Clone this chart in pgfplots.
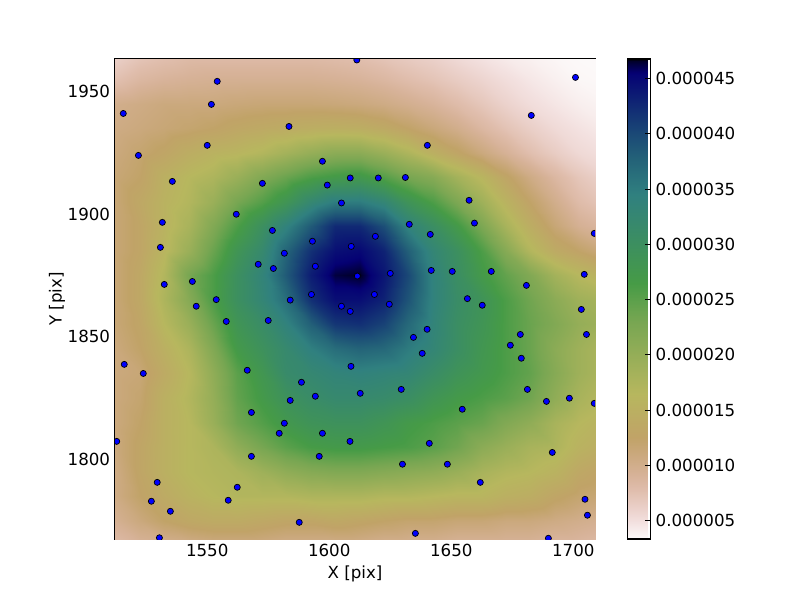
\documentclass[border=0pt]{standalone}
\usepackage{fontspec}
\setmainfont{DejaVu Sans}
\usepackage{pgfplots}
\pgfplotsset{compat=1.18}
\pgfplotsset{colormap={gistearthr}{
rgb(0pt)=(0.992,0.984,0.984)
rgb(35pt)=(0.953,0.882,0.878)
rgb(59pt)=(0.926,0.828,0.807)
rgb(102pt)=(0.878,0.743,0.677)
rgb(133pt)=(0.843,0.699,0.598)
rgb(184pt)=(0.786,0.655,0.473)
rgb(212pt)=(0.755,0.639,0.405)
rgb(302pt)=(0.718,0.717,0.369)
rgb(451pt)=(0.472,0.652,0.322)
rgb(478pt)=(0.411,0.640,0.307)
rgb(533pt)=(0.275,0.608,0.275)
rgb(541pt)=(0.271,0.603,0.285)
rgb(718pt)=(0.188,0.502,0.500)
rgb(792pt)=(0.139,0.384,0.471)
rgb(835pt)=(0.110,0.304,0.465)
rgb(890pt)=(0.073,0.189,0.457)
rgb(969pt)=(0.021,0.009,0.455)
rgb(973pt)=(0.018,0.0,0.433)
rgb(992pt)=(0.005,0.0,0.221)
rgb(996pt)=(0.003,0.0,0.168)
rgb(1000pt)=(0,0,0)
}}
\begin{document}
\begin{tikzpicture}[x=1pt,y=1pt]
\useasboundingbox (0,0) rectangle (576,432);
\begin{axis}[
  at={(82.8pt,43.92pt)}, anchor=south west,
  scale only axis, width=345.6pt, height=345.6pt,
  xmin=1512.2, xmax=1708.9, ymin=1767.5, ymax=1963.2,
  xtick={1550,1600,1650,1700}, ytick={1800,1850,1900,1950},
  /pgf/number format/1000 sep={},
  /pgf/number format/assume math mode=true,
  tick label style={font=\fontsize{12}{14}\selectfont},
  label style={font=\fontsize{12}{14}\selectfont},
  xlabel={X [pix]}, ylabel={Y [pix]}, ylabel shift=-5pt,
  tick align=inside, major tick length=4pt,
  axis line style={line width=0.75pt},
  every tick/.style={black, line width=0.6pt},
  colormap name=gistearthr,
  point meta min=3.35, point meta max=46.75,
  clip marker paths=true,
  colorbar,
  colorbar style={
    at={(parent axis.north east)}, anchor=north west, xshift=15.1pt,
    scale only axis, width=16.56pt, height=345.6pt,
    ytick={5,10,15,20,25,30,35,40,45},
    yticklabels={0.000005,0.000010,0.000015,0.000020,0.000025,0.000030,0.000035,0.000040,0.000045},
    yticklabel style={font=\fontsize{12}{14}\selectfont},
    ytick pos=right, tick align=inside, major tick length=4pt,
    axis line style={line width=0.75pt},
  },
]
\addplot[surf, shader=interp, mesh/cols=22, point meta=explicit] coordinates {
(1502.4,1765)[7.5] (1512.4,1765)[8] (1522.4,1765)[9] (1532.4,1765)[9.5] (1542.4,1765)[10] (1552.4,1765)[10.5] (1562.4,1765)[10.5] (1572.4,1765)[10.5] (1582.4,1765)[10] (1592.4,1765)[10] (1602.4,1765)[10] (1612.4,1765)[10] (1622.4,1765)[9.5] (1632.4,1765)[9.5] (1642.4,1765)[9.5] (1652.4,1765)[9] (1662.4,1765)[9] (1672.4,1765)[9] (1682.4,1765)[9] (1692.4,1765)[8.5] (1702.4,1765)[8.5] (1712.4,1765)[8]
(1502.4,1775)[9] (1512.4,1775)[9.5] (1522.4,1775)[11] (1532.4,1775)[12.5] (1542.4,1775)[13.5] (1552.4,1775)[14] (1562.4,1775)[14] (1572.4,1775)[13.5] (1582.4,1775)[13] (1592.4,1775)[13] (1602.4,1775)[13.5] (1612.4,1775)[13] (1622.4,1775)[12.5] (1632.4,1775)[12] (1642.4,1775)[12] (1652.4,1775)[11.5] (1662.4,1775)[11.5] (1672.4,1775)[11] (1682.4,1775)[11] (1692.4,1775)[10.5] (1702.4,1775)[10] (1712.4,1775)[9.5]
(1502.4,1785)[10] (1512.4,1785)[10.5] (1522.4,1785)[12.5] (1532.4,1785)[14] (1542.4,1785)[15.5] (1552.4,1785)[16.5] (1562.4,1785)[17] (1572.4,1785)[17] (1582.4,1785)[17] (1592.4,1785)[17.5] (1602.4,1785)[17.5] (1612.4,1785)[17.5] (1622.4,1785)[17] (1632.4,1785)[17] (1642.4,1785)[16.5] (1652.4,1785)[16] (1662.4,1785)[16] (1672.4,1785)[15] (1682.4,1785)[14.5] (1692.4,1785)[13] (1702.4,1785)[12] (1712.4,1785)[11.5]
(1502.4,1795)[10] (1512.4,1795)[10.5] (1522.4,1795)[13] (1532.4,1795)[15] (1542.4,1795)[16.5] (1552.4,1795)[17] (1562.4,1795)[17.5] (1572.4,1795)[19] (1582.4,1795)[20.5] (1592.4,1795)[21.5] (1602.4,1795)[22] (1612.4,1795)[22] (1622.4,1795)[21.5] (1632.4,1795)[21] (1642.4,1795)[20.5] (1652.4,1795)[19.5] (1662.4,1795)[18] (1672.4,1795)[17] (1682.4,1795)[16.5] (1692.4,1795)[15.5] (1702.4,1795)[13.5] (1712.4,1795)[12.5]
(1502.4,1805)[10.5] (1512.4,1805)[11] (1522.4,1805)[13] (1532.4,1805)[15] (1542.4,1805)[16.5] (1552.4,1805)[17.5] (1562.4,1805)[20.5] (1572.4,1805)[23] (1582.4,1805)[25] (1592.4,1805)[26.5] (1602.4,1805)[27] (1612.4,1805)[27] (1622.4,1805)[26.5] (1632.4,1805)[26] (1642.4,1805)[25] (1652.4,1805)[23.5] (1662.4,1805)[21] (1672.4,1805)[19.5] (1682.4,1805)[18] (1692.4,1805)[17.5] (1702.4,1805)[15.5] (1712.4,1805)[14.5]
(1502.4,1815)[10.5] (1512.4,1815)[11] (1522.4,1815)[12.5] (1532.4,1815)[15] (1542.4,1815)[16.5] (1552.4,1815)[19.5] (1562.4,1815)[23.5] (1572.4,1815)[25.5] (1582.4,1815)[27.5] (1592.4,1815)[29] (1602.4,1815)[29.5] (1612.4,1815)[29.5] (1622.4,1815)[28.5] (1632.4,1815)[27] (1642.4,1815)[26] (1652.4,1815)[25] (1662.4,1815)[24] (1672.4,1815)[22] (1682.4,1815)[20.5] (1692.4,1815)[18] (1702.4,1815)[16.5] (1712.4,1815)[15.5]
(1502.4,1825)[10.5] (1512.4,1825)[11] (1522.4,1825)[12] (1532.4,1825)[15] (1542.4,1825)[17] (1552.4,1825)[20] (1562.4,1825)[24.5] (1572.4,1825)[27] (1582.4,1825)[29.5] (1592.4,1825)[31] (1602.4,1825)[32] (1612.4,1825)[32] (1622.4,1825)[31.5] (1632.4,1825)[30.5] (1642.4,1825)[28.5] (1652.4,1825)[27] (1662.4,1825)[26] (1672.4,1825)[25] (1682.4,1825)[23.5] (1692.4,1825)[20.5] (1702.4,1825)[18] (1712.4,1825)[16.5]
(1502.4,1835)[10.5] (1512.4,1835)[11] (1522.4,1835)[11.5] (1532.4,1835)[14] (1542.4,1835)[16.5] (1552.4,1835)[20.5] (1562.4,1835)[25] (1572.4,1835)[28] (1582.4,1835)[31.5] (1592.4,1835)[32.5] (1602.4,1835)[33.5] (1612.4,1835)[34] (1622.4,1835)[33.5] (1632.4,1835)[33] (1642.4,1835)[31] (1652.4,1835)[29] (1662.4,1835)[27.5] (1672.4,1835)[26] (1682.4,1835)[24.5] (1692.4,1835)[21.5] (1702.4,1835)[19] (1712.4,1835)[17.5]
(1502.4,1845)[10.5] (1512.4,1845)[11] (1522.4,1845)[12.5] (1532.4,1845)[15] (1542.4,1845)[17.5] (1552.4,1845)[22] (1562.4,1845)[27] (1572.4,1845)[29.5] (1582.4,1845)[32] (1592.4,1845)[34.5] (1602.4,1845)[36.5] (1612.4,1845)[37.5] (1622.4,1845)[37] (1632.4,1845)[35] (1642.4,1845)[33] (1652.4,1845)[30.5] (1662.4,1845)[28] (1672.4,1845)[26] (1682.4,1845)[24] (1692.4,1845)[21] (1702.4,1845)[19] (1712.4,1845)[17.5]
(1502.4,1855)[11] (1512.4,1855)[11.5] (1522.4,1855)[13] (1532.4,1855)[16.5] (1542.4,1855)[19.5] (1552.4,1855)[24] (1562.4,1855)[28.5] (1572.4,1855)[31] (1582.4,1855)[34] (1592.4,1855)[38] (1602.4,1855)[41.5] (1612.4,1855)[42] (1622.4,1855)[40.5] (1632.4,1855)[37] (1642.4,1855)[33.5] (1652.4,1855)[30.5] (1662.4,1855)[28.5] (1672.4,1855)[26] (1682.4,1855)[24] (1692.4,1855)[22] (1702.4,1855)[20] (1712.4,1855)[19]
(1502.4,1865)[11] (1512.4,1865)[11.5] (1522.4,1865)[13.5] (1532.4,1865)[17.5] (1542.4,1865)[21.5] (1552.4,1865)[26] (1562.4,1865)[30] (1572.4,1865)[33] (1582.4,1865)[36.5] (1592.4,1865)[42] (1602.4,1865)[44.5] (1612.4,1865)[44.5] (1622.4,1865)[43] (1632.4,1865)[39] (1642.4,1865)[34] (1652.4,1865)[31] (1662.4,1865)[29] (1672.4,1865)[26] (1682.4,1865)[23.5] (1692.4,1865)[21] (1702.4,1865)[19] (1712.4,1865)[18]
(1502.4,1875)[11] (1512.4,1875)[11.5] (1522.4,1875)[13.5] (1532.4,1875)[17] (1542.4,1875)[23] (1552.4,1875)[26] (1562.4,1875)[30] (1572.4,1875)[33.5] (1582.4,1875)[38.5] (1592.4,1875)[43.5] (1602.4,1875)[46.3] (1612.4,1875)[46.7] (1622.4,1875)[44] (1632.4,1875)[40] (1642.4,1875)[34] (1652.4,1875)[30.5] (1662.4,1875)[27] (1672.4,1875)[24.5] (1682.4,1875)[22] (1692.4,1875)[18.5] (1702.4,1875)[16.5] (1712.4,1875)[15]
(1502.4,1885)[11] (1512.4,1885)[11.5] (1522.4,1885)[13] (1532.4,1885)[16] (1542.4,1885)[19.5] (1552.4,1885)[24] (1562.4,1885)[28.5] (1572.4,1885)[32] (1582.4,1885)[37.5] (1592.4,1885)[42] (1602.4,1885)[44.5] (1612.4,1885)[45] (1622.4,1885)[43] (1632.4,1885)[38] (1642.4,1885)[33] (1652.4,1885)[30] (1662.4,1885)[26] (1672.4,1885)[21.5] (1682.4,1885)[17] (1692.4,1885)[14] (1702.4,1885)[12.5] (1712.4,1885)[11]
(1502.4,1895)[11] (1512.4,1895)[11.5] (1522.4,1895)[13] (1532.4,1895)[15.5] (1542.4,1895)[18] (1552.4,1895)[22] (1562.4,1895)[26] (1572.4,1895)[30] (1582.4,1895)[34] (1592.4,1895)[38.5] (1602.4,1895)[42.5] (1612.4,1895)[42.5] (1622.4,1895)[39.5] (1632.4,1895)[34] (1642.4,1895)[30.5] (1652.4,1895)[27] (1662.4,1895)[22.5] (1672.4,1895)[18] (1682.4,1895)[14.5] (1692.4,1895)[11.5] (1702.4,1895)[9.5] (1712.4,1895)[8.5]
(1502.4,1905)[11] (1512.4,1905)[11.5] (1522.4,1905)[13.5] (1532.4,1905)[15.5] (1542.4,1905)[17] (1552.4,1905)[19.5] (1562.4,1905)[23] (1572.4,1905)[25.5] (1582.4,1905)[28.5] (1592.4,1905)[32.5] (1602.4,1905)[35] (1612.4,1905)[35] (1622.4,1905)[33] (1632.4,1905)[29] (1642.4,1905)[26] (1652.4,1905)[22.5] (1662.4,1905)[19] (1672.4,1905)[15.5] (1682.4,1905)[12.5] (1692.4,1905)[10] (1702.4,1905)[8] (1712.4,1905)[7]
(1502.4,1915)[11] (1512.4,1915)[11.5] (1522.4,1915)[12.5] (1532.4,1915)[15] (1542.4,1915)[16.5] (1552.4,1915)[17.5] (1562.4,1915)[19.5] (1572.4,1915)[22] (1582.4,1915)[24] (1592.4,1915)[26] (1602.4,1915)[27] (1612.4,1915)[27.5] (1622.4,1915)[25.5] (1632.4,1915)[23] (1642.4,1915)[21.5] (1652.4,1915)[18.5] (1662.4,1915)[16] (1672.4,1915)[13] (1682.4,1915)[10.5] (1692.4,1915)[8.5] (1702.4,1915)[7] (1712.4,1915)[6]
(1502.4,1925)[10.5] (1512.4,1925)[11] (1522.4,1925)[12] (1532.4,1925)[13] (1542.4,1925)[14.5] (1552.4,1925)[15.5] (1562.4,1925)[16] (1572.4,1925)[17] (1582.4,1925)[18.5] (1592.4,1925)[20] (1602.4,1925)[21] (1612.4,1925)[21] (1622.4,1925)[19.5] (1632.4,1925)[17.5] (1642.4,1925)[15] (1652.4,1925)[13] (1662.4,1925)[11] (1672.4,1925)[9.3] (1682.4,1925)[7.7] (1692.4,1925)[6.5] (1702.4,1925)[5.5] (1712.4,1925)[5]
(1502.4,1935)[10] (1512.4,1935)[10.5] (1522.4,1935)[11] (1532.4,1935)[11.5] (1542.4,1935)[12] (1552.4,1935)[12.5] (1562.4,1935)[13.3] (1572.4,1935)[13.8] (1582.4,1935)[14.2] (1592.4,1935)[14.6] (1602.4,1935)[14.8] (1612.4,1935)[14.6] (1622.4,1935)[13.8] (1632.4,1935)[12.5] (1642.4,1935)[11.2] (1652.4,1935)[10] (1662.4,1935)[8.5] (1672.4,1935)[7.3] (1682.4,1935)[6.3] (1692.4,1935)[5.4] (1702.4,1935)[4.8] (1712.4,1935)[4.3]
(1502.4,1945)[9] (1512.4,1945)[10] (1522.4,1945)[10.5] (1532.4,1945)[11] (1542.4,1945)[11] (1552.4,1945)[11] (1562.4,1945)[11.3] (1572.4,1945)[11.5] (1582.4,1945)[11.5] (1592.4,1945)[11.5] (1602.4,1945)[11.3] (1612.4,1945)[11] (1622.4,1945)[10.5] (1632.4,1945)[9.8] (1642.4,1945)[9] (1652.4,1945)[8] (1662.4,1945)[7] (1672.4,1945)[6] (1682.4,1945)[5.2] (1692.4,1945)[4.6] (1702.4,1945)[4.1] (1712.4,1945)[3.8]
(1502.4,1955)[7] (1512.4,1955)[7.5] (1522.4,1955)[8.5] (1532.4,1955)[9] (1542.4,1955)[9.3] (1552.4,1955)[9.5] (1562.4,1955)[9.5] (1572.4,1955)[9.5] (1582.4,1955)[9.5] (1592.4,1955)[9.5] (1602.4,1955)[9.3] (1612.4,1955)[9] (1622.4,1955)[8.5] (1632.4,1955)[7.8] (1642.4,1955)[7.2] (1652.4,1955)[6.5] (1662.4,1955)[5.8] (1672.4,1955)[5.1] (1682.4,1955)[4.5] (1692.4,1955)[4] (1702.4,1955)[3.6] (1712.4,1955)[3.5]
(1502.4,1965)[5.5] (1512.4,1965)[6] (1522.4,1965)[7] (1532.4,1965)[7.5] (1542.4,1965)[8] (1552.4,1965)[8] (1562.4,1965)[8] (1572.4,1965)[8] (1582.4,1965)[8] (1592.4,1965)[8] (1602.4,1965)[7.8] (1612.4,1965)[7.5] (1622.4,1965)[7] (1632.4,1965)[6.5] (1642.4,1965)[6] (1652.4,1965)[5.3] (1662.4,1965)[4.7] (1672.4,1965)[4.2] (1682.4,1965)[3.9] (1692.4,1965)[3.6] (1702.4,1965)[3.45] (1712.4,1965)[3.4]
};
\addplot[only marks, mark=*, mark size=2.2pt, mark options={fill=blue, draw=black, line width=0.5pt}] table {
x y
1554.1 1954.1
1551.7 1944.7
1515.6 1941.0
1583.5 1935.7
1521.8 1923.9
1550.0 1928.0
1597.2 1921.5
1608.6 1914.7
1535.7 1913.3
1572.6 1912.5
1599.2 1911.8
1605.0 1904.5
1561.9 1899.9
1531.6 1896.6
1576.7 1893.3
1593.1 1888.9
1609.0 1886.8
1530.8 1886.4
1581.6 1884.0
1570.9 1879.5
1577.1 1877.8
1594.3 1878.7
1543.9 1872.5
1532.4 1871.3
1592.7 1867.2
1553.7 1865.1
1584.0 1864.9
1611.3 1962.8
1700.9 1955.7
1682.8 1940.2
1640.2 1928.0
1620.1 1914.7
1631.2 1914.9
1657.3 1905.6
1659.5 1896.3
1632.8 1895.8
1641.4 1891.7
1618.9 1890.9
1708.6 1892.1
1625.0 1875.8
1641.8 1877.0
1650.4 1876.6
1666.4 1876.6
1704.5 1875.4
1680.8 1870.9
1611.5 1874.7
1618.5 1867.2
1656.6 1865.5
1545.5 1862.4
1557.8 1856.2
1575.0 1856.6
1605.0 1862.4
1608.6 1860.3
1516.0 1838.7
1523.8 1835.0
1566.4 1836.3
1588.6 1831.4
1584.0 1824.0
1594.3 1825.7
1608.9 1837.9
1568.1 1819.1
1581.6 1814.7
1579.5 1810.6
1597.2 1810.6
1608.5 1807.3
1512.9 1807.3
1568.1 1801.2
1595.9 1801.2
1529.5 1790.6
1562.3 1788.6
1527.1 1782.9
1558.6 1783.3
1534.9 1778.8
1587.7 1774.3
1530.4 1768.0
1624.6 1863.2
1662.7 1862.8
1703.3 1861.1
1640.1 1853.0
1634.5 1849.7
1638.1 1843.2
1678.3 1850.9
1674.2 1846.5
1705.4 1850.9
1678.7 1841.2
1612.7 1826.9
1629.5 1828.5
1681.2 1828.5
1689.0 1823.6
1698.4 1824.9
1708.6 1822.8
1654.5 1820.4
1641.0 1806.5
1630.0 1798.0
1648.4 1798.0
1691.4 1802.8
1661.9 1790.6
1704.8 1783.7
1705.8 1777.2
1635.3 1769.8
1689.8 1767.8
};
\end{axis}
\end{tikzpicture}
\end{document}
